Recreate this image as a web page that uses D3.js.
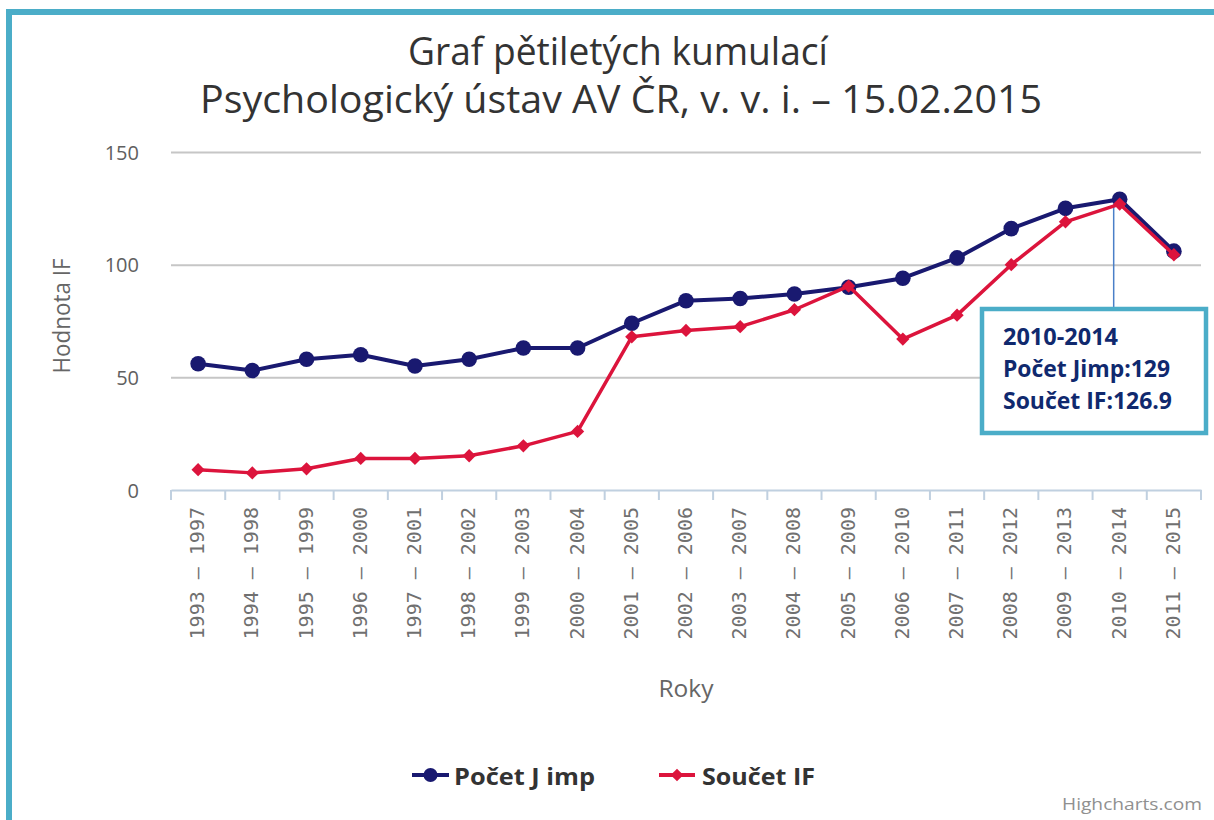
<!DOCTYPE html>
<html>
<head>
<meta charset="utf-8">
<script src="https://cdn.jsdelivr.net/npm/d3@7"></script>
<style>
  body { margin: 0; background: #fff; }
  svg { display: block; font-family: "Open Sans", sans-serif; }
</style>
</head>
<body>
<div id="chart"></div>
<script>
// chart data
var periods = ["1993 – 1997", "1994 – 1998", "1995 – 1999", "1996 – 2000", "1997 – 2001",
  "1998 – 2002", "1999 – 2003", "2000 – 2004", "2001 – 2005", "2002 – 2006", "2003 – 2007",
  "2004 – 2008", "2005 – 2009", "2006 – 2010", "2007 – 2011", "2008 – 2012", "2009 – 2013",
  "2010 – 2014", "2011 – 2015"];
var pocetJimp = [56, 53, 58, 60, 55, 58, 63, 63, 74, 84, 85, 87, 90, 94, 103, 116, 125, 129, 106];
var soucetIF = [9, 7.6, 9.4, 14, 14, 15.2, 19.6, 26, 68, 70.8, 72.5, 80, 90.5, 67, 77.6, 100, 119, 126.9, 104.4];
var yTicks = [0, 50, 100, 150];
var seriesNames = ["Počet J imp", "Součet IF"];
var tooltipIndex = 17;

var svgWidth = 1214;
var svgHeight = 820;

var margin = { top: 152, right: 13, bottom: 330, left: 171 };
var width = svgWidth - margin.left - margin.right;
var height = svgHeight - margin.top - margin.bottom;

var blue = "#191970";
var red = "#dc143c";
var frameColor = "#4badc8";

var svg = d3.select("#chart")
  .append("svg")
  .attr("width", svgWidth)
  .attr("height", svgHeight);

// frame around chart (opens to right/bottom)
svg.append("rect")
  .attr("x", 9)
  .attr("y", 12)
  .attr("width", 1300)
  .attr("height", 900)
  .attr("fill", "none")
  .attr("stroke", frameColor)
  .attr("stroke-width", 6);

// helper: fit text to a measured width
function fit(sel, w) {
  sel.attr("textLength", w).attr("lengthAdjust", "spacingAndGlyphs");
  return sel;
}

// title
fit(svg.append("text")
  .attr("x", 618).attr("y", 65)
  .attr("text-anchor", "middle")
  .attr("font-size", 38)
  .attr("fill", "#333")
  .text("Graf pětiletých kumulací"), 420);

fit(svg.append("text")
  .attr("x", 621).attr("y", 113)
  .attr("text-anchor", "middle")
  .attr("font-size", 38)
  .attr("fill", "#333")
  .text("Psychologický ústav AV ČR, v. v. i. – 15.02.2015"), 842);

var chartGroup = svg.append("g")
  .attr("transform", `translate(${margin.left}, ${margin.top})`);

// scales
var x = d3.scaleBand()
  .domain(periods)
  .range([0, width])
  .padding(0);

var y = d3.scaleLinear()
  .domain([0, 150])
  .range([height, 0]);

var cx = d => x(d) + x.bandwidth() / 2;

// y axis with gridlines
var leftAxis = d3.axisLeft(y)
  .tickValues(yTicks)
  .tickSize(-width)
  .tickFormat(d3.format("d"));

var yAxis = chartGroup.append("g").call(leftAxis);
yAxis.select(".domain").remove();
yAxis.selectAll(".tick line")
  .attr("stroke", "#c6c6c6")
  .attr("stroke-width", 2)
  .attr("stroke-opacity", d => d === 0 ? 0 : 1);
yAxis.selectAll(".tick text")
  .attr("x", -32)
  .attr("dy", "0.35em")
  .attr("font-size", 20)
  .attr("font-family", "Open Sans, sans-serif")
  .attr("fill", "#606060");

// x axis
var bottomAxis = d3.axisBottom(x).tickSize(0);
var xAxis = chartGroup.append("g")
  .attr("transform", `translate(0, ${height})`)
  .call(bottomAxis);
xAxis.select(".domain")
  .attr("stroke", "#c0d0e0")
  .attr("stroke-width", 2);
xAxis.selectAll(".tick text")
  .attr("transform", "rotate(-90)")
  .attr("text-anchor", "end")
  .attr("x", -17)
  .attr("y", 6)
  .attr("dy", 0)
  .attr("font-size", 20)
  .attr("font-family", "DejaVu Sans Mono, monospace")
  .attr("fill", "#707070");

// boundary ticks
chartGroup.append("g")
  .selectAll("line")
  .data(periods.concat(["end"]))
  .enter()
  .append("line")
  .attr("x1", (d, i) => i < periods.length ? x(d) : width)
  .attr("x2", (d, i) => i < periods.length ? x(d) : width)
  .attr("y1", height)
  .attr("y2", height + 10)
  .attr("stroke", "#c0d0e0")
  .attr("stroke-width", 2);

// axis titles
fit(chartGroup.append("text")
  .attr("x", 686 - margin.left)
  .attr("y", height + 207)
  .attr("text-anchor", "middle")
  .attr("font-size", 23)
  .attr("fill", "#666")
  .text("Roky"), 55);

fit(svg.append("text")
  .attr("transform", "translate(70, 316) rotate(-90)")
  .attr("text-anchor", "middle")
  .attr("font-size", 23)
  .attr("fill", "#666")
  .text("Hodnota IF"), 115);

// lines
var line = d3.line()
  .x(d => cx(d.p))
  .y(d => y(d.v));

var blueData = periods.map((p, i) => ({ p: p, v: pocetJimp[i] }));
var redData = periods.map((p, i) => ({ p: p, v: soucetIF[i] }));

chartGroup.append("path")
  .datum(blueData)
  .attr("d", line)
  .attr("fill", "none")
  .attr("stroke", blue)
  .attr("stroke-width", 4)
  .attr("stroke-linejoin", "round");

chartGroup.selectAll(".dot")
  .data(blueData)
  .enter()
  .append("circle")
  .attr("class", "dot")
  .attr("cx", d => cx(d.p))
  .attr("cy", d => y(d.v))
  .attr("r", 7.8)
  .attr("fill", blue);

// tooltip connector (under red series)
var tx = cx(periods[tooltipIndex]) - 6;
chartGroup.append("line")
  .attr("x1", tx).attr("x2", tx)
  .attr("y1", y(pocetJimp[tooltipIndex]) + 4)
  .attr("y2", 307 - margin.top)
  .attr("stroke", "#4a7fc8")
  .attr("stroke-width", 1.5);

chartGroup.append("path")
  .datum(redData)
  .attr("d", line)
  .attr("fill", "none")
  .attr("stroke", red)
  .attr("stroke-width", 3.5)
  .attr("stroke-linejoin", "round");

var diamond = d3.symbol().type(d3.symbolSquare).size(88);
chartGroup.selectAll(".diamond")
  .data(redData)
  .enter()
  .append("path")
  .attr("class", "diamond")
  .attr("d", diamond)
  .attr("transform", d => `translate(${cx(d.p)}, ${y(d.v)}) rotate(45)`)
  .attr("fill", red);

// tooltip box
var tip = svg.append("g");
tip.append("rect")
  .attr("x", 982).attr("y", 309)
  .attr("width", 224).attr("height", 124)
  .attr("fill", "#fff")
  .attr("stroke", frameColor)
  .attr("stroke-width", 4.5);

var tipLines = [
  { t: periods[tooltipIndex].replace(" – ", "-"), y: 345, w: 115 },
  { t: "Počet Jimp:" + pocetJimp[tooltipIndex], y: 377, w: 167 },
  { t: "Součet IF:" + soucetIF[tooltipIndex], y: 409, w: 169 }
];
tip.selectAll("text")
  .data(tipLines)
  .enter()
  .append("text")
  .attr("x", 1003)
  .attr("y", d => d.y)
  .attr("font-size", 23)
  .attr("font-weight", "bold")
  .attr("fill", "#10296e")
  .attr("textLength", d => d.w)
  .attr("lengthAdjust", "spacingAndGlyphs")
  .text(d => d.t);

// legend
var legend = svg.append("g");
var legendItems = [
  { name: seriesNames[0], color: blue, x0: 412, x1: 449, tx: 454, w: 141, sym: "circle" },
  { name: seriesNames[1], color: red, x0: 659, x1: 695, tx: 702, w: 113, sym: "diamond" }
];
legendItems.forEach(function(it) {
  legend.append("line")
    .attr("x1", it.x0).attr("x2", it.x1)
    .attr("y1", 775).attr("y2", 775)
    .attr("stroke", it.color)
    .attr("stroke-width", 4);
  if (it.sym === "circle") {
    legend.append("circle")
      .attr("cx", (it.x0 + it.x1) / 2).attr("cy", 775)
      .attr("r", 7)
      .attr("fill", it.color);
  } else {
    legend.append("path")
      .attr("d", d3.symbol().type(d3.symbolSquare).size(80))
      .attr("transform", `translate(${(it.x0 + it.x1) / 2}, 775) rotate(45)`)
      .attr("fill", it.color);
  }
  fit(legend.append("text")
    .attr("x", it.tx).attr("y", 785)
    .attr("font-size", 23)
    .attr("font-weight", "bold")
    .attr("fill", "#333")
    .text(it.name), it.w);
});

// credits
fit(svg.append("text")
  .attr("x", 1202).attr("y", 810)
  .attr("text-anchor", "end")
  .attr("font-size", 17)
  .attr("fill", "#909090")
  .text("Highcharts.com"), 140);
</script>
</body>
</html>
